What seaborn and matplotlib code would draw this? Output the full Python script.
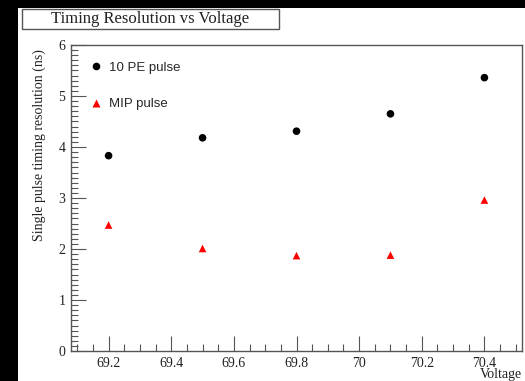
import pandas as pd
import seaborn as sns
import matplotlib.pyplot as plt
from matplotlib.patches import Rectangle
from matplotlib.ticker import MultipleLocator

voltage = [69.2, 69.5, 69.8, 70.1, 70.4]
pe10_res = [3.83, 4.18, 4.31, 4.65, 5.36]
mip_res = [2.47, 2.01, 1.87, 1.88, 2.96]
series_names = ["10 PE pulse", "MIP pulse"]

df = pd.DataFrame({
    "Voltage": voltage * 2,
    "Resolution": pe10_res + mip_res,
    "Pulse": [series_names[0]] * len(voltage) + [series_names[1]] * len(voltage),
})

sns.set_style("ticks")
plt.rcParams["font.family"] = ["Liberation Serif", "DejaVu Serif"]

fig = plt.figure(figsize=(5.25, 3.81), dpi=100, facecolor="black")
# white canvas with black strips on top/left like the screenshot
fig.patches.append(Rectangle((18 / 525, 0), 1, 1 - 8 / 381, transform=fig.transFigure,
                             facecolor="white", edgecolor="none", zorder=-10))
# title box
fig.patches.append(Rectangle((22 / 525, 1 - 29 / 381), 257 / 525, 20 / 381,
                             transform=fig.transFigure, facecolor="white",
                             edgecolor="#555555", linewidth=1.0))
ax = fig.add_axes([71 / 525, 1 - 351 / 381, (522 - 71) / 525, (351 - 45) / 381])

sns.scatterplot(data=df, x="Voltage", y="Resolution", hue="Pulse", style="Pulse",
                palette={series_names[0]: "black", series_names[1]: "red"},
                markers={series_names[0]: "o", series_names[1]: "^"},
                s=30, edgecolor="none", ax=ax)

ax.set_xlim(69.08, 70.52)
ax.set_ylim(0, 6)
ax.xaxis.set_major_locator(MultipleLocator(0.2))
ax.xaxis.set_minor_locator(MultipleLocator(0.05))
ax.yaxis.set_major_locator(MultipleLocator(1))
ax.yaxis.set_minor_locator(MultipleLocator(0.1))
ax.set_xticks([69.2, 69.4, 69.6, 69.8, 70.0, 70.2, 70.4])
ax.set_xticklabels(["69.2", "69.4", "69.6", "69.8", "70", "70.2", "70.4"])
ax.tick_params(which="major", direction="in", length=11, width=0.8, color="#555555",
               labelsize=10, labelcolor="#222222", pad=4)
ax.tick_params(which="minor", direction="in", length=5, width=0.8, color="#555555")
for sp in ax.spines.values():
    sp.set_color("#555555")
    sp.set_linewidth(1.0)

ax.set_xlabel("Voltage", loc="right", fontsize=10, color="#222222", labelpad=-1)
ax.set_ylabel("Single pulse timing resolution (ns)", loc="top", fontsize=10,
              color="#222222", labelpad=12)
ax.yaxis.set_label_coords(-0.085, 0.985, transform=ax.transAxes)
ax.yaxis.label.set_va("top")

ax.legend(loc="upper left", bbox_to_anchor=(0.011, 0.985), frameon=False,
          prop={"family": "Liberation Sans", "size": 9.5}, labelspacing=1.85,
          handlelength=1.2, handletextpad=0.4, markerscale=1.0)

fig.text(150 / 525, 1 - 19 / 381, "Timing Resolution vs Voltage", ha="center", va="center",
         fontsize=12, color="#222222")

fig.savefig("out.png", dpi=100, facecolor=fig.get_facecolor())
